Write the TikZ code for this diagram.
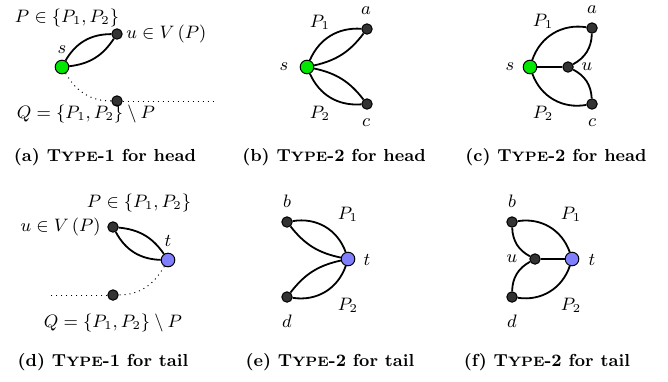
\documentclass[tikz,border=0pt]{standalone}
\usepackage{amssymb}
\begin{document}
\begin{tikzpicture}[x=0.5pt,y=0.5pt,
  vtx/.style={circle,draw=black,line width=0.5pt,fill=black!80,inner sep=0pt,minimum size=5.2pt},
  srcv/.style={circle,draw=black,line width=0.5pt,fill=green!85!black!60!green,inner sep=0pt,minimum size=6.8pt},
  snkv/.style={circle,draw=black,line width=0.5pt,fill=blue!50!white,inner sep=0pt,minimum size=6.8pt},
  lnk/.style={line width=0.9pt},
  dotln/.style={dotted,line width=0.5pt},
  lbl/.style={inner sep=0pt,font=\fontsize{9}{11}\selectfont},
  captxt/.style={inner sep=0pt,font=\fontsize{8.7}{11}\selectfont\bfseries}]
\useasboundingbox (0,0) rectangle (668,-381);
\newcommand{\tyP}[1]{T{\fontsize{6.8}{8}\selectfont YPE}-#1}
% ---------- (a)
\node[srcv] (as) at (62,-67) {};
\node[vtx] (au) at (117,-34) {};
\node[vtx] (aq) at (117,-101) {};
\coordinate (aend) at (217,-101);
\draw[lnk] (as) to[bend left=30] (au);
\draw[lnk] (as) to[bend right=25] (au);
\draw[dotln] (as) to[out=-60,in=180] (aq);
\draw[dotln] (aq) -- (aend);
\node[lbl] (aP) at (67,-18) {$P\in\{P_1,P_2\}$};
\node[lbl,anchor=west] (auL) at (126,-34) {$u\in V\,(P)$};
\node[lbl] (asL) at (62,-50) {$s$};
\node[lbl] (aQ) at (86,-114) {$Q=\{P_1,P_2\}\setminus P$};
\node[captxt] (acap) at (105,-157) {(a) \tyP{1} for head};
% ---------- (b)
\node[srcv] (bs) at (307,-67) {};
\node[vtx] (ba) at (367,-29) {};
\node[vtx] (bc) at (367,-104) {};
\draw[lnk] (bs) to[bend left=35] (ba);
\draw[lnk] (bs) to[bend right=20] (ba);
\draw[lnk] (bs) to[bend right=35] (bc);
\draw[lnk] (bs) to[bend left=20] (bc);
\node[lbl] (baL) at (366,-11) {$a$};
\node[lbl] (bcL) at (366,-123) {$c$};
\node[lbl] (bP1) at (320,-22) {$P_1$};
\node[lbl] (bP2) at (320,-113) {$P_2$};
\node[lbl] (bsL) at (284,-67) {$s$};
\node[captxt] (bcap) at (334,-157) {(b) \tyP{2} for head};
% ---------- (c)
\node[srcv] (cs) at (530,-67) {};
\node[vtx] (cu) at (568,-67) {};
\node[vtx] (ca) at (592,-28) {};
\node[vtx] (cc) at (592,-104) {};
\draw[lnk] (cs) -- (cu);
\draw[lnk] (cs) to[bend left=40] (ca);
\draw[lnk] (cu) to[bend right=30] (ca);
\draw[lnk] (cs) to[bend right=40] (cc);
\draw[lnk] (cu) to[bend left=30] (cc);
\node[lbl] (caL) at (592,-10) {$a$};
\node[lbl] (ccL) at (592,-123) {$c$};
\node[lbl] (cuL) at (587,-67) {$u$};
\node[lbl] (csL) at (510,-67) {$s$};
\node[lbl] (cP1) at (543,-21) {$P_1$};
\node[lbl] (cP2) at (543,-113) {$P_2$};
\node[captxt] (ccap) at (556,-157) {(c) \tyP{2} for head};
% ---------- (d)
\node[vtx] (du) at (113,-227) {};
\node[snkv] (dt) at (168,-260) {};
\node[vtx] (dq) at (113,-295) {};
\coordinate (dend) at (48,-295);
\draw[lnk] (du) to[bend left=25] (dt);
\draw[lnk] (du) to[bend right=30] (dt);
\draw[dotln] (dt) to[out=-120,in=0] (dq);
\draw[dotln] (dq) -- (dend);
\node[lbl] (dP) at (139,-203) {$P\in\{P_1,P_2\}$};
\node[lbl,anchor=east] (duL) at (101,-227) {$u\in V\,(P)$};
\node[lbl] (dtL) at (168,-241) {$t$};
\node[lbl] (dQ) at (113,-323) {$Q=\{P_1,P_2\}\setminus P$};
\node[captxt] (dcap) at (103,-362) {(d) \tyP{1} for tail};
% ---------- (e)
\node[vtx] (eb) at (287,-222) {};
\node[snkv] (et) at (348,-259) {};
\node[vtx] (ed) at (287,-297) {};
\draw[lnk] (eb) to[bend left=40] (et);
\draw[lnk] (eb) to[bend right=20] (et);
\draw[lnk] (ed) to[bend right=40] (et);
\draw[lnk] (ed) to[bend left=20] (et);
\node[lbl] (ebL) at (287,-201) {$b$};
\node[lbl] (edL) at (287,-321) {$d$};
\node[lbl] (eP1) at (348,-214) {$P_1$};
\node[lbl] (eP2) at (348,-305) {$P_2$};
\node[lbl] (etL) at (367,-260) {$t$};
\node[captxt] (ecap) at (330,-362) {(e) \tyP{2} for tail};
% ---------- (f)
\node[vtx] (fb) at (512,-222) {};
\node[vtx] (fu) at (535,-259) {};
\node[snkv] (ft) at (572,-259) {};
\node[vtx] (fd) at (512,-297) {};
\draw[lnk] (fu) -- (ft);
\draw[lnk] (fb) to[bend left=40] (ft);
\draw[lnk] (fb) to[bend right=30] (fu);
\draw[lnk] (fd) to[bend right=40] (ft);
\draw[lnk] (fd) to[bend left=30] (fu);
\node[lbl] (fbL) at (512,-201) {$b$};
\node[lbl] (fdL) at (512,-321) {$d$};
\node[lbl] (fuL) at (512,-259) {$u$};
\node[lbl] (ftL) at (592,-260) {$t$};
\node[lbl] (fP1) at (571,-214) {$P_1$};
\node[lbl] (fP2) at (571,-305) {$P_2$};
\node[captxt] (fcap) at (547,-362) {(f) \tyP{2} for tail};
\end{tikzpicture}
\end{document}
